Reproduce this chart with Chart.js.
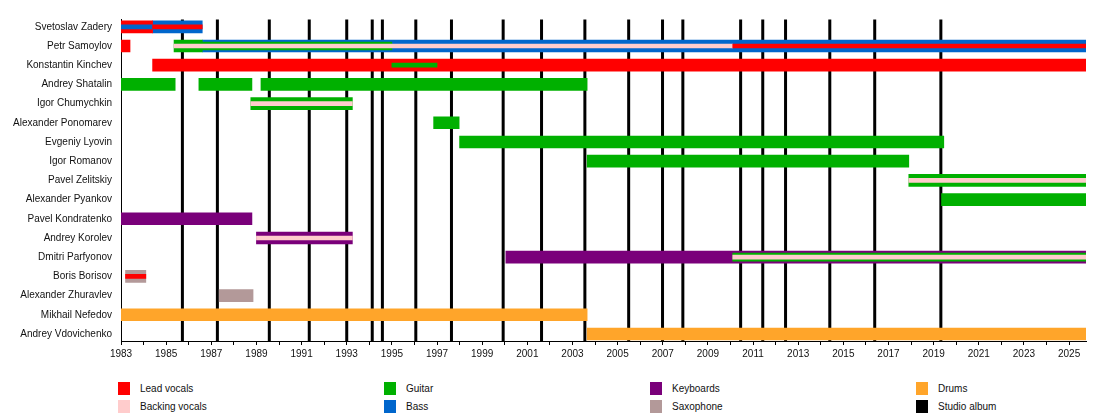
<!DOCTYPE html>
<html>
<head>
<meta charset="utf-8">
<script src="https://cdn.jsdelivr.net/npm/chart.js@4.4.1/dist/chart.umd.min.js"></script>
<style>
  body { margin: 0; background: #fff; font-family: "Liberation Sans", Arial, sans-serif; }
  #wrap { position: relative; width: 1105px; height: 420px; }
  #box { position: absolute; left: 0; top: 0; width: 1105px; height: 370px; }
  .item { position: absolute; height: 13px; line-height: 13px; font-size: 10px; color: #111; white-space: nowrap; }
  .sw { position: absolute; left: 0; top: 0; width: 12px; height: 13px; }
  .lbl { position: absolute; left: 22px; top: 0; }
</style>
</head>
<body>
<div id="wrap">
  <div id="box"><canvas id="timeline"></canvas></div>
  <div id="legend"></div>
</div>
<script>
const START = 1983;
const END = 2025.75;

const members = [
  "Svetoslav Zadery", "Petr Samoylov", "Konstantin Kinchev", "Andrey Shatalin",
  "Igor Chumychkin", "Alexander Ponomarev", "Evgeniy Lyovin", "Igor Romanov",
  "Pavel Zelitskiy", "Alexander Pyankov", "Pavel Kondratenko", "Andrey Korolev",
  "Dmitri Parfyonov", "Boris Borisov", "Alexander Zhuravlev", "Mikhail Nefedov",
  "Andrey Vdovichenko"
];

const roles = ["Lead vocals", "Backing vocals", "Guitar", "Bass", "Keyboards", "Saxophone", "Drums", "Studio album"];
const roleColors = ["#ff0000", "#ffcccc", "#00b000", "#0066cc", "#7a007a", "#b39999", "#ffa52a", "#000000"];

// studio albums (release dates as decimal years)
const albums = [
  1985.72, 1987.27, 1989.57, 1991.34, 1993.0, 1994.13, 1994.58, 1996.06, 1997.64,
  1999.93, 2001.63, 2003.55, 2005.49, 2006.99, 2007.89, 2010.45, 2011.43, 2012.44,
  2014.4, 2016.39, 2019.32
];

// [member, role, from, to] - primary role
const mainSpans = [
  ["Svetoslav Zadery", "Lead vocals", 1983, 1984.4],
  ["Svetoslav Zadery", "Bass", 1984.4, 1986.6],
  ["Petr Samoylov", "Lead vocals", 1983, 1983.4],
  ["Petr Samoylov", "Guitar", 1985.35, 1986.6],
  ["Petr Samoylov", "Bass", 1986.6, END],
  ["Konstantin Kinchev", "Lead vocals", 1984.4, END],
  ["Andrey Shatalin", "Guitar", 1983, 1985.4],
  ["Andrey Shatalin", "Guitar", 1986.45, 1988.8],
  ["Andrey Shatalin", "Guitar", 1989.2, 2003.65],
  ["Igor Chumychkin", "Guitar", 1988.75, 1993.25],
  ["Alexander Ponomarev", "Guitar", 1996.85, 1997.98],
  ["Evgeniy Lyovin", "Guitar", 1998.0, 2019.45],
  ["Igor Romanov", "Guitar", 2003.65, 2017.9],
  ["Pavel Zelitskiy", "Guitar", 2017.9, END],
  ["Alexander Pyankov", "Guitar", 2019.35, END],
  ["Pavel Kondratenko", "Keyboards", 1983, 1988.8],
  ["Andrey Korolev", "Keyboards", 1989.0, 1993.25],
  ["Dmitri Parfyonov", "Keyboards", 2000.05, END],
  ["Boris Borisov", "Saxophone", 1983.2, 1984.1],
  ["Alexander Zhuravlev", "Saxophone", 1987.35, 1988.85],
  ["Mikhail Nefedov", "Drums", 1983, 2003.65],
  ["Andrey Vdovichenko", "Drums", 2003.65, END]
];

// second role
const midSpans = [
  ["Petr Samoylov", "Guitar", 1986.6, 1995.0],
  ["Dmitri Parfyonov", "Guitar", 2010.1, END]
];

// third role (thin centre stripe)
const innerSpans = [
  ["Svetoslav Zadery", "Bass", 1983, 1984.4],
  ["Svetoslav Zadery", "Lead vocals", 1984.4, 1986.6],
  ["Petr Samoylov", "Backing vocals", 1985.35, 2010.1],
  ["Petr Samoylov", "Lead vocals", 2010.1, END],
  ["Konstantin Kinchev", "Guitar", 1995.0, 1997.0],
  ["Igor Chumychkin", "Backing vocals", 1988.75, 1993.25],
  ["Pavel Zelitskiy", "Backing vocals", 2017.9, END],
  ["Andrey Korolev", "Backing vocals", 1989.0, 1993.25],
  ["Dmitri Parfyonov", "Backing vocals", 2010.1, END],
  ["Boris Borisov", "Lead vocals", 1983.2, 1984.1]
];

const layers = [
  { spans: mainSpans, thickness: 12, order: 3 },
  { spans: midSpans, thickness: 8, order: 2 },
  { spans: innerSpans, thickness: 4, order: 1 }
];

const datasets = [];
layers.forEach((layer) => {
  roles.forEach((role, i) => {
    const rows = layer.spans.filter((s) => s[1] === role);
    if (!rows.length) return;
    datasets.push({
      label: role,
      data: rows.map((s) => ({ y: members.indexOf(s[0]), x: [s[2], s[3]] })),
      backgroundColor: roleColors[i],
      barThickness: layer.thickness,
      grouped: false,
      order: layer.order
    });
  });
});

// vertical lines for studio albums, behind the bars
const albumLines = {
  id: "albumLines",
  beforeDatasetsDraw(chart) {
    const { ctx, chartArea, scales } = chart;
    ctx.save();
    ctx.strokeStyle = "#000";
    ctx.lineWidth = 3;
    albums.forEach((year) => {
      const x = scales.x.getPixelForValue(year);
      ctx.beginPath();
      ctx.moveTo(x, chartArea.top);
      ctx.lineTo(x, chartArea.bottom);
      ctx.stroke();
    });
    ctx.restore();
  }
};

const ctx = document.getElementById("timeline").getContext("2d");
const timeline = new Chart(ctx, {
  type: "bar",
  data: { datasets },
  plugins: [albumLines],
  options: {
    indexAxis: "y",
    responsive: true,
    maintainAspectRatio: false,
    animation: false,
    layout: { padding: { top: 19.5, right: 19, bottom: 0, left: 0 } },
    plugins: { legend: { display: false }, tooltip: { enabled: false } },
    scales: {
      x: {
        type: "linear",
        min: START,
        max: END,
        afterFit: (scale) => { scale.height = 29; },
        border: { display: true, color: "#000", width: 1 },
        grid: { display: true, drawOnChartArea: false, drawTicks: true, tickLength: 4, color: "#000" },
        ticks: {
          stepSize: 1,
          includeBounds: false,
          autoSkip: false,
          maxRotation: 0,
          padding: 3,
          color: "#111",
          font: { family: "'Liberation Sans', Arial, sans-serif", size: 10 },
          callback: (v) => (v % 2 === 1 ? String(v) : "")
        }
      },
      y: {
        type: "linear",
        reverse: true,
        offset: false,
        min: -0.38,
        max: 16.365,
        afterFit: (scale) => { scale.width = 121; },
        border: { display: true, color: "#000", width: 1 },
        grid: { display: false, drawTicks: false, offset: false },
        ticks: {
          stepSize: 1,
          includeBounds: false,
          autoSkip: false,
          padding: 9,
          color: "#111",
          font: { family: "'Liberation Sans', Arial, sans-serif", size: 10 },
          callback: (v) => (members[v] !== undefined ? members[v] : "")
        }
      }
    }
  }
});

// legend: two rows, four columns
const legend = document.getElementById("legend");
roles.forEach((role, i) => {
  const item = document.createElement("div");
  item.className = "item";
  item.style.left = 118 + Math.floor(i / 2) * 266 + "px";
  item.style.top = 382 + (i % 2) * 17.5 + "px";
  item.innerHTML = '<span class="sw" style="background:' + roleColors[i] + '"></span><span class="lbl">' + role + "</span>";
  legend.appendChild(item);
});
</script>
</body>
</html>
